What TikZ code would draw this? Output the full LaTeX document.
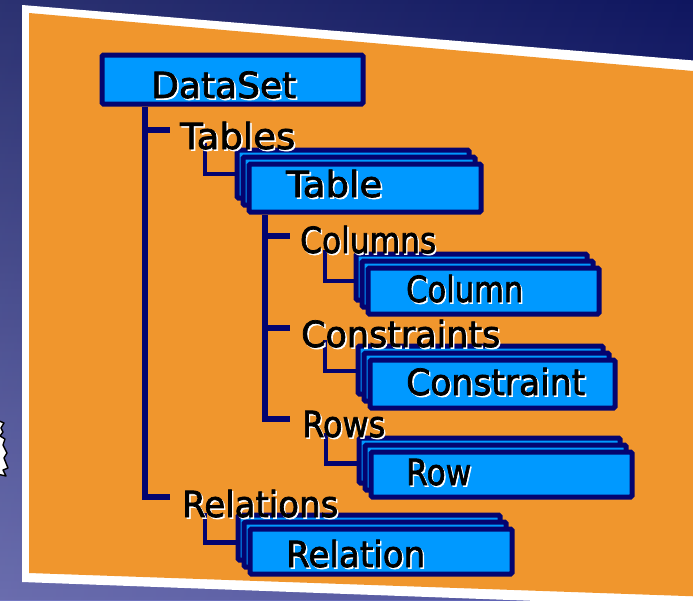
\documentclass[tikz,border=0pt]{standalone}
\usepackage{fontspec}
\setmainfont{DejaVu Sans}
\newfontfamily\lblfont{DejaVu Sans}[FakeBold=2]
\usepackage{graphicx}

\definecolor{navy}{RGB}{4,4,112}
\definecolor{boxblue}{RGB}{0,153,255}
\definecolor{panel}{RGB}{240,150,45}
\definecolor{skytop}{RGB}{18,26,108}
\definecolor{skybot}{RGB}{98,102,186}

% black caption with a white drop shadow, squeezed to a given width
\newcommand\shlabel[2]{\resizebox{#1}{\height}{\rlap{\kern1.6pt\raisebox{-1.6pt}{\color{white}#2}}{\color{black}#2}}}

% three stacked boxes: name, left, top, width, height (outer size of the front box)
\newcommand\stackbox[5]{%
  \node[box, minimum width={#4pt-5pt}, minimum height={#5pt-5pt}] (#1-3) at (#2-12+2.5,#3-14+2.5) {};
  \node[box, minimum width={#4pt-5pt}, minimum height={#5pt-5pt}] (#1-2) at (#2-6+2.5,#3-7+2.5) {};
  \node[box, minimum width={#4pt-5pt}, minimum height={#5pt-5pt}] (#1) at (#2+2.5,#3+2.5) {};}

\begin{document}
\begin{tikzpicture}[x=1pt,y=-1pt,
  box/.style={draw=navy, fill=boxblue, line width=5pt, rounded corners=1.5pt,
              inner sep=0pt, anchor=north west},
  conn/.style={draw=navy, line width=5.5pt},
  lconn/.style={draw=navy, line width=4.5pt},
  lbl/.style={anchor=base west, inner sep=0pt, font=\lblfont\fontsize{36}{40}\selectfont}]

\useasboundingbox (0,0) rectangle (693,600);
\clip (0,0) rectangle (693,600);

% backdrop
\fill[top color=skytop, bottom color=skybot] (0,0) rectangle (693,600);
\fill[left color=white, right color=skytop, opacity=0.12] (0,0) rectangle (693,600);

% small clipped artwork at the left edge
\filldraw[fill=white, draw=black, line width=1.4pt, line join=round]
  (-3,420) -- (4,423) -- (1,428) -- (3,432) -- (0,436) -- (5,439) -- (3,445)
  -- (7,453) -- (4,458) -- (8,468) -- (3,470) -- (6,476) -- (-3,474) -- cycle;

% framed panel
\fill[white] (22,5) -- (700,61) -- (700,607) -- (22,582) -- cycle;
\fill[panel] (29,13) -- (700,71.6) -- (700,596.5) -- (29,573) -- cycle;

% junction points of the tree
\coordinate (j0) at (145,497);
\coordinate (jT) at (145,130);
\coordinate (t0) at (265,419);
\coordinate (tC) at (265,236);
\coordinate (tK) at (265,328);
\coordinate (cTables) at (205,143);
\coordinate (cColumns) at (325,250);
\coordinate (cConstraints) at (325,340);
\coordinate (cRows) at (326,433);
\coordinate (cRelations) at (205,513);

% boxes and captions sit on a layer above the connectors
\pgfdeclarelayer{front}
\pgfsetlayers{main,front}

\begin{pgfonlayer}{front}
\node[box, minimum width=261pt, minimum height=49pt] (ds) at (99.5,52.5) {};
\stackbox{tbl}{244}{159}{237}{53}
\stackbox{col}{363}{263}{236}{51}
\stackbox{con}{365}{355}{250}{53}
\stackbox{row}{366}{447}{266}{50}
\stackbox{rel}{245}{524}{267}{50}

\node[lbl] (lDataSet) at (151,98) {\shlabel{145pt}{DataSet}};
\node[lbl] (lTables) at (180,149) {\shlabel{115pt}{Tables}};
\node[lbl] (lTable) at (286,197) {\shlabel{96pt}{Table}};
\node[lbl] (lColumns) at (300,253) {\shlabel{136pt}{Columns}};
\node[lbl] (lColumn) at (406,302) {\shlabel{117pt}{Column}};
\node[lbl] (lConstraints) at (301,347) {\shlabel{199pt}{Constraints}};
\node[lbl] (lConstraint) at (406,395) {\shlabel{179pt}{Constraint}};
\node[lbl] (lRows) at (302,437) {\shlabel{83pt}{Rows}};
\node[lbl] (lRow) at (406,485) {\shlabel{65pt}{Row}};
\node[lbl] (lRelations) at (182,517) {\shlabel{156pt}{Relations}};
\node[lbl] (lRelation) at (286,567) {\shlabel{139pt}{Relation}};
\end{pgfonlayer}

% DataSet trunk
\draw[conn] (ds.south -| j0) -- (j0) -- ++(25,0);
\draw[conn] (jT) -- ++(25,0);
% Table trunk
\draw[conn] (tbl.south -| t0) -- (t0) -- ++(25,0);
\draw[conn] (tC) -- ++(25,0);
\draw[conn] (tK) -- ++(25,0);
% collection to item links
\draw[lconn] (cTables) |- (tbl-3.west);
\draw[lconn] (cColumns) |- ([yshift=-4pt]col-3.west);
\draw[lconn] (cConstraints) |- ([yshift=-1pt]con-3.west);
\draw[lconn] (cRows) |- ([yshift=-3pt]row-3.west);
\draw[lconn] (cRelations) |- ([yshift=-5pt]rel-3.west);

\end{tikzpicture}
\end{document}
